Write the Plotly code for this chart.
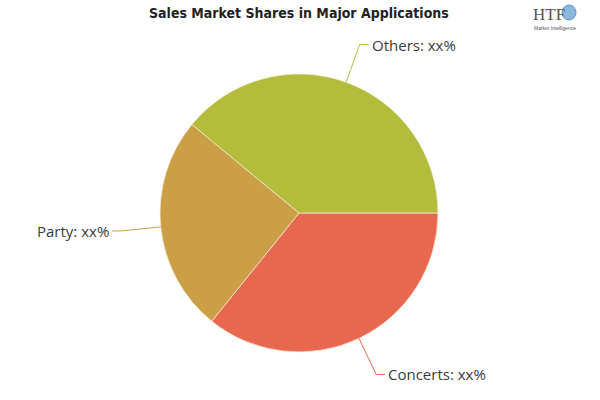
import math
import plotly.graph_objects as go

# ---- data ----
categories = ["Concerts", "Party", "Others"]
shares = [35.8, 25.2, 39.0]
label_texts = ["Concerts: xx%", "Party: xx%", "Others: xx%"]
colors = ["#E8684F", "#CC9E46", "#B3BD3B"]
title_text = "Sales Market Shares in Major Applications"

W, H = 600, 400
cx, cy, r = 299, 213, 139  # pie centre / radius in page pixels

fig = go.Figure()
fig.add_trace(go.Pie(
    labels=categories, values=shares, sort=False, direction="clockwise",
    rotation=90, textinfo="none", hoverinfo="skip", showlegend=False,
    marker=dict(colors=colors, line=dict(color="#F4F0E0", width=0.7)),
    domain=dict(x=[(cx - r) / W, (cx + r) / W],
                y=[(H - cy - r) / H, (H - cy + r) / H]),
))

# leader lines computed from the slice mid angles
total = sum(shares)
cum = 0.0
shapes = []
annotations = []
for cat, v, txt, col in zip(categories, shares, label_texts, colors):
    mid = 2 * math.pi * (cum + v / 2) / total
    cum += v
    dx, dy = math.cos(mid), math.sin(mid)
    x0, y0 = cx + r * dx, cy + r * dy
    x1, y1 = cx + (r + 40) * dx, cy + (r + 40) * dy
    side = 1 if dx >= 0 else -1
    x2 = x1 + side * 9
    shapes.append(dict(type="path", xref="x", yref="y",
                       path=f"M{x0},{y0} L{x1},{y1} L{x2},{y1}",
                       line=dict(color=col, width=1)))
    annotations.append(dict(x=x2 + side * 1, y=y1, xref="x", yref="y",
                            text=txt, showarrow=False,
                            xanchor="left" if side > 0 else "right",
                            yanchor="middle",
                            font=dict(family="Open Sans", size=15, color="#3a3a3a")))

# title
annotations.append(dict(x=299, y=13, xref="x", yref="y", text=f"<b>{title_text}</b>",
                        showarrow=False, xanchor="center", yanchor="middle",
                        font=dict(family="DejaVu Sans Condensed, DejaVu Sans, sans-serif",
                                  size=14, color="#222222")))
# logo
annotations.append(dict(x=531, y=14, xref="x", yref="y", text="HTF",
                        showarrow=False, xanchor="left", yanchor="middle",
                        font=dict(family="Liberation Serif", size=17, color="#555555")))
annotations.append(dict(x=555, y=28, xref="x", yref="y", text="Market Intelligence",
                        showarrow=False, xanchor="center", yanchor="middle",
                        font=dict(family="Liberation Sans", size=5, color="#555555")))
shapes.append(dict(type="circle", xref="x", yref="y", x0=562, y0=5, x1=576, y1=20,
                   fillcolor="#6FA8D6", line=dict(color="#3C7DB5", width=1), opacity=0.8))

fig.update_layout(
    width=W, height=H, margin=dict(l=0, r=0, t=0, b=0),
    paper_bgcolor="white", plot_bgcolor="rgba(0,0,0,0)",
    xaxis=dict(range=[0, W], visible=False, fixedrange=True),
    yaxis=dict(range=[H, 0], visible=False, fixedrange=True),
    shapes=shapes, annotations=annotations, hovermode=False,
)

fig.write_html("out.html", config={"displayModeBar": False},
               post_script="document.body.style.margin='0';document.body.style.overflow='hidden';")
